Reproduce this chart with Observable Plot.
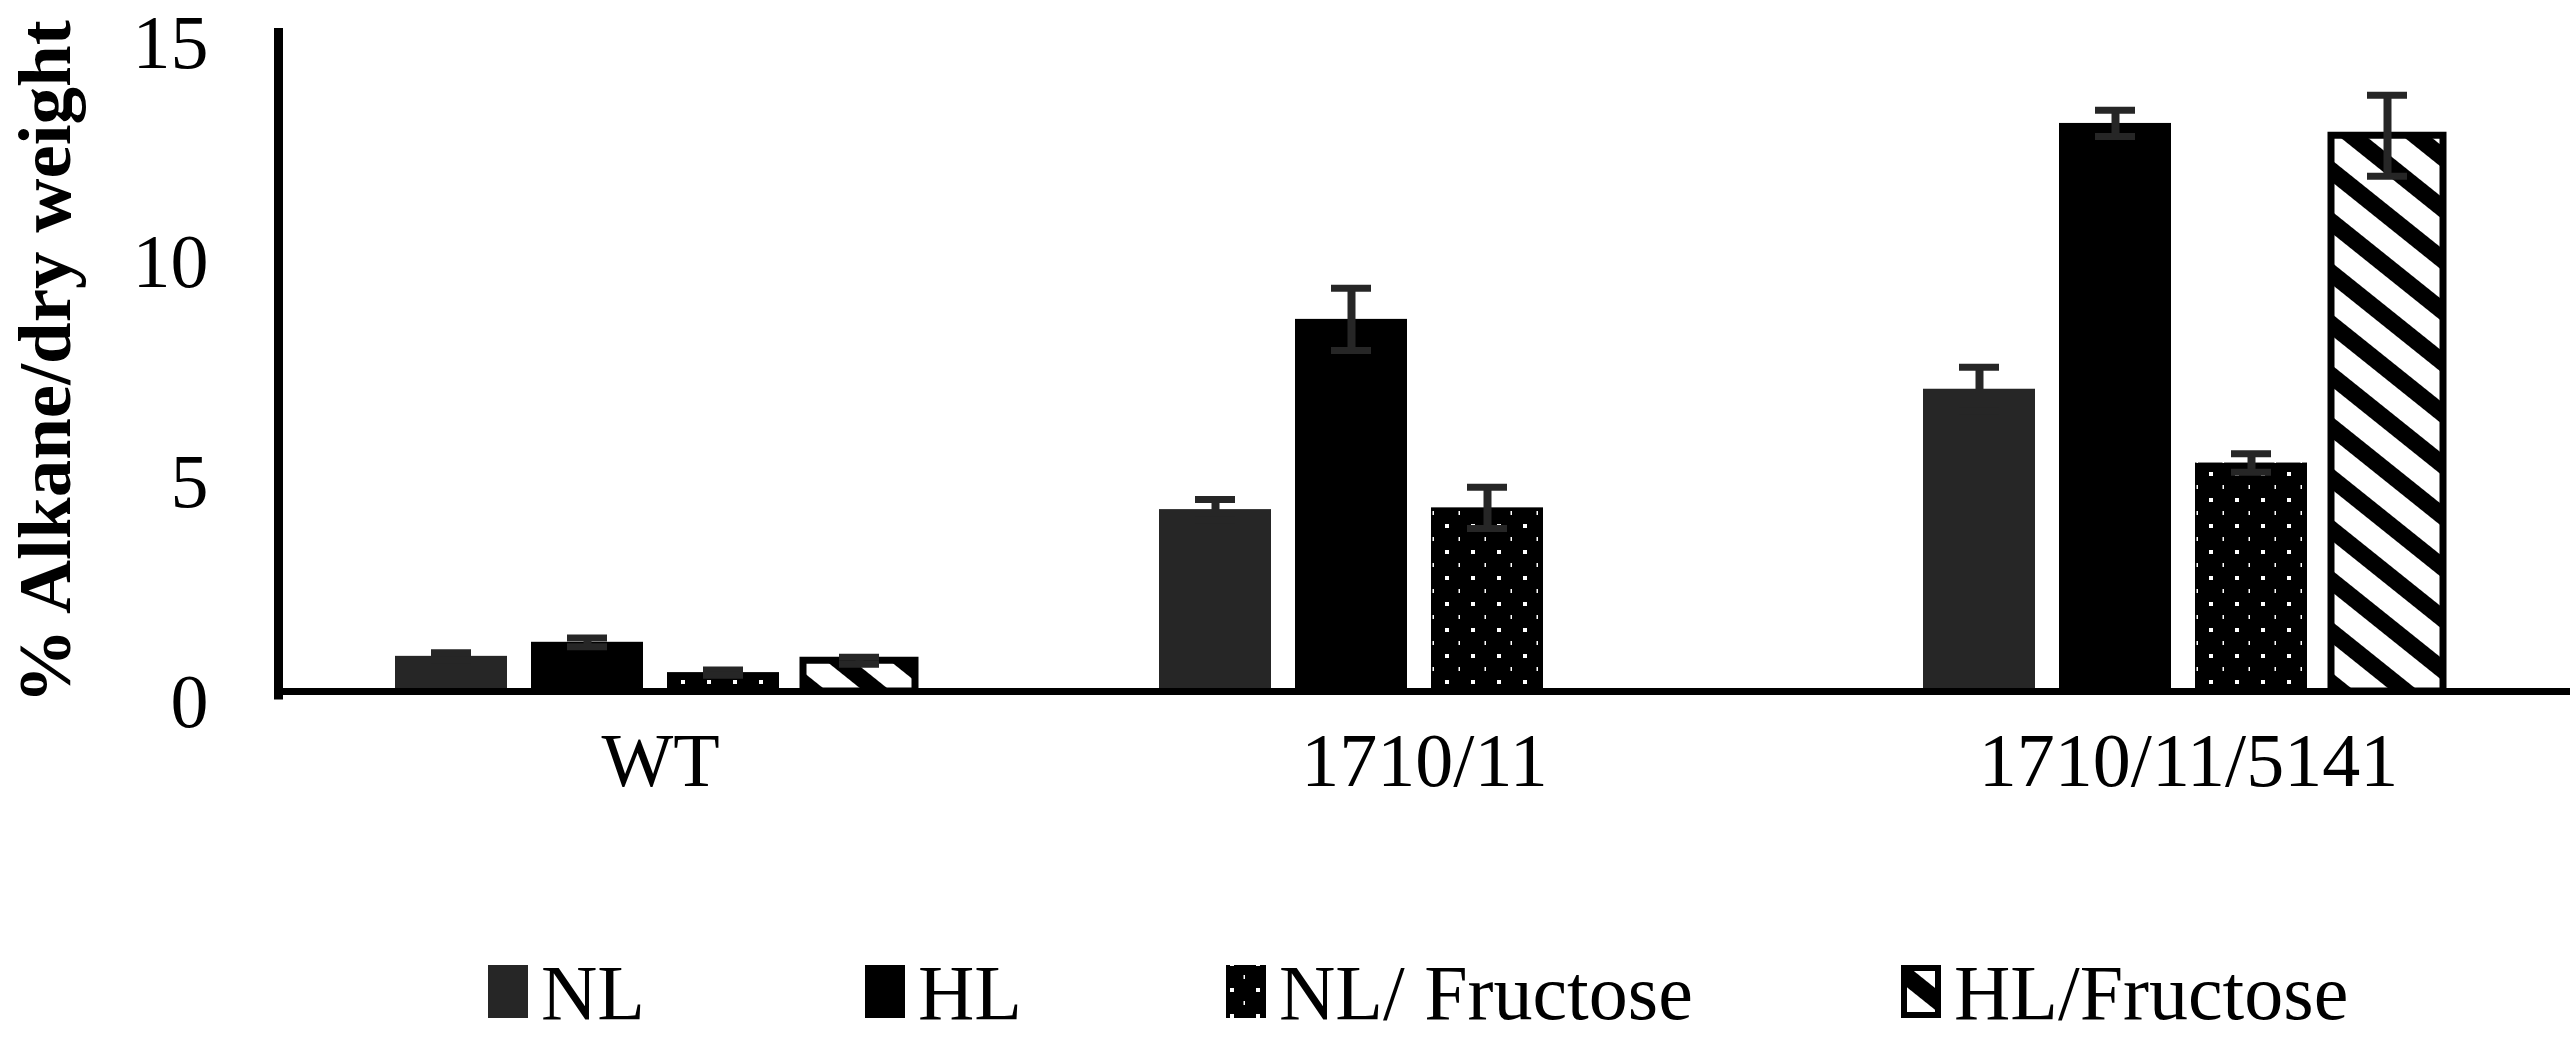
<!DOCTYPE html>
<html>
<head>
<meta charset="utf-8">
<script src="https://cdn.jsdelivr.net/npm/d3@7"></script>
<script src="https://cdn.jsdelivr.net/npm/@observablehq/plot@0.6"></script>
<style>
  html, body { margin: 0; padding: 0; background: #fff; }
  #wrap { width: 2570px; height: 1040px; position: relative; overflow: hidden; background: #fff; }
  #wrap svg { display: block; }
</style>
</head>
<body>
<div id="wrap"></div>
<script>
// ---------- data ----------
const groups = ["WT", "1710/11", "1710/11/5141"];
const series = ["NL", "HL", "NL/ Fructose", "HL/Fructose"];
const nlMean    = [0.80, 4.14, 6.88];
const nlErr     = [0.08, 0.23, 0.50];
const hlMean    = [1.12, 8.47, 12.93];
const hlErr     = [0.10, 0.71, 0.30];
const nlFruMean = [0.43, 4.18, 5.20];
const nlFruErr  = [0.06, 0.47, 0.21];
const hlFruMean = [0.70, null, 12.65];
const hlFruErr  = [0.08, null, 0.92];
const yTicks = [0, 5, 10, 15];
const yLabel = "% Alkane/dry weight";

// ---------- build table ----------
const seriesData = [[nlMean, nlErr], [hlMean, hlErr], [nlFruMean, nlFruErr], [hlFruMean, hlFruErr]];
const rows = [];
series.forEach((s, si) => groups.forEach((g, gi) => {
  const v = seriesData[si][0][gi];
  if (v == null) return;
  rows.push({group: g, series: s, value: v, err: seriesData[si][1][gi]});
}));

// ---------- styles ----------
const FONT = "'Liberation Serif', 'Times New Roman', serif";
const fills = {"NL": "#262626", "HL": "#000000", "NL/ Fructose": "url(#dots)", "HL/Fructose": "url(#stripes)"};
const errColor = "#262626";

const wrap = d3.select("#wrap");

// pattern definitions
const defs = wrap.append("svg").attr("width", 0).attr("height", 0)
  .style("position", "absolute").style("left", "0px").style("top", "0px").append("defs");
const dots = defs.append("pattern").attr("id", "dots").attr("patternUnits", "userSpaceOnUse")
  .attr("width", 26).attr("height", 26);
dots.append("rect").attr("width", 26).attr("height", 26).attr("fill", "#000");
dots.append("rect").attr("x", 4).attr("y", 4).attr("width", 4).attr("height", 4).attr("fill", "#fff");
dots.append("rect").attr("x", 17.5).attr("y", 17).attr("width", 1.5).attr("height", 4).attr("fill", "#fff");
const stripes = defs.append("pattern").attr("id", "stripes").attr("patternUnits", "userSpaceOnUse")
  .attr("width", 40).attr("height", 40).attr("patternTransform", "rotate(-51.3)");
stripes.append("rect").attr("width", 40).attr("height", 40).attr("fill", "#fff");
stripes.append("rect").attr("width", 17).attr("height", 40).attr("fill", "#000");

const bySeries = s => rows.filter(d => d.series === s);

const chart = Plot.plot({
  width: 2570,
  height: 880,
  marginLeft: 277,
  marginRight: 0,
  marginTop: 32,
  marginBottom: 189,
  style: {fontFamily: FONT, background: "transparent", color: "#000", overflow: "visible"},
  fx: {domain: groups, padding: 0, label: null},
  x: {domain: series, paddingInner: 0.18, paddingOuter: 0.88, align: 0.48, axis: null},
  y: {domain: [0, 15], axis: null},
  marks: [
    ...series.map(s => Plot.barY(bySeries(s), {
      fx: "group", x: "series", y: "value",
      fill: fills[s],
      ...(s === "HL/Fructose" ? {stroke: "#000", strokeWidth: 7} : {})
    })),
    Plot.ruleX(rows, {fx: "group", x: "series", y1: d => d.value - d.err, y2: d => d.value + d.err,
      stroke: errColor, strokeWidth: 8}),
    Plot.tickY(rows, {fx: "group", x: "series", y: d => d.value + d.err,
      stroke: errColor, strokeWidth: 7, insetLeft: 36, insetRight: 36}),
    Plot.tickY(rows, {fx: "group", x: "series", y: d => d.value - d.err,
      stroke: errColor, strokeWidth: 7, insetLeft: 36, insetRight: 36}),
    Plot.ruleY([0], {stroke: "#000", strokeWidth: 7}),
    Plot.frame({anchor: "left", fx: ["WT"], stroke: "#000", strokeWidth: 9, insetBottom: -3.5}),
    Plot.axisY({ticks: yTicks, tickSize: 0, tickPadding: 70, fontSize: 76, dy: 11, label: null}),
    Plot.text([yLabel], {fx: ["WT"], frameAnchor: "left", text: d => d, rotate: -90, dx: -233,
      fontSize: 75, fontWeight: "bold", textAnchor: "middle", fill: "#000"}),
    Plot.axisFx({anchor: "bottom", tickSize: 0, tickPadding: 41, fontSize: 76, label: null})
  ]
});
wrap.node().appendChild(chart);

// ---------- legend ----------
const legendLeft = [488, 865, 1226, 1901];
const legend = wrap.append("svg").attr("width", 2570).attr("height", 160);
const item = legend.selectAll("g").data(series).join("g")
  .attr("transform", (d, i) => `translate(${legendLeft[i]},0)`);
item.append("rect")
  .attr("x", d => d === "HL/Fructose" ? 3 : 0)
  .attr("y", d => d === "HL/Fructose" ? 88 : 85)
  .attr("width", d => d === "HL/Fructose" ? 34 : 40)
  .attr("height", d => d === "HL/Fructose" ? 47 : 53)
  .attr("fill", d => fills[d])
  .attr("stroke", d => d === "HL/Fructose" ? "#000" : "none")
  .attr("stroke-width", 6);
item.append("text")
  .attr("x", 53).attr("y", 139)
  .style("font-family", FONT).style("font-size", "78px").attr("fill", "#000")
  .text(d => d);
</script>
</body>
</html>
